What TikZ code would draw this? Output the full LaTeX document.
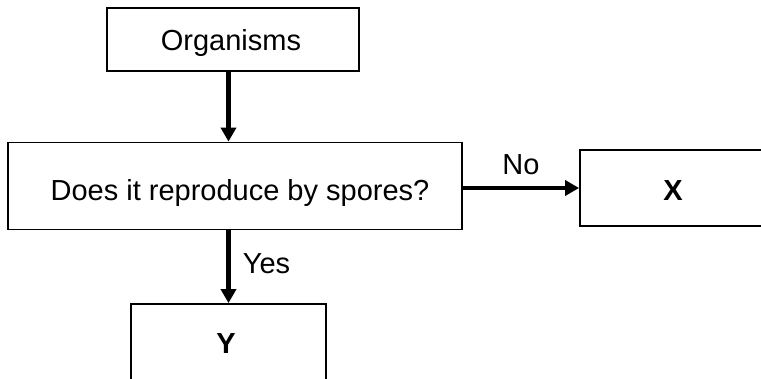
\documentclass[tikz,border=0pt]{standalone}
\usepackage{fontspec}
\setmainfont{Liberation Sans}
\usetikzlibrary{arrows.meta,positioning}

\begin{document}
\begin{tikzpicture}[x=1pt,y=-1pt,line join=miter,
  box/.style={draw,line width=1.8pt,inner sep=0pt},
  lbl/.style={font=\fontsize{29}{34}\selectfont,inner sep=0pt,anchor=base},
  flow/.style={line width=4.6pt,-{Triangle[length=14pt,width=15pt]}}]
  \clip (0,0) rectangle (761,378);
  % boxes
  \node[box,minimum width=252pt,minimum height=63pt] (org) at (233,39.5) {};
  \node[box,minimum width=454pt,minimum height=87pt] (ask) at (235,186) {};
  \node[box,minimum width=240pt,minimum height=76pt] (xbox) at (700,188) {};
  \node[box,minimum width=195pt,minimum height=120pt] (ybox) at (228.5,364) {};
  % texts
  \node[lbl] (orgtxt) at (231,50) {Organisms};
  \node[lbl] (asktxt) at (240,200) {Does it reproduce by spores?};
  \node[lbl,font=\fontsize{29}{34}\selectfont\bfseries] (xtxt) at (673,200) {X};
  \node[lbl,font=\fontsize{29}{34}\selectfont\bfseries] (ytxt) at (226,353) {Y};
  % arrows
  \draw[flow] (org.south -| ybox.north) -- (ask.north -| ybox.north);
  \draw[flow] (ask.east |- xbox.west) -- node[lbl,above=14pt,anchor=base] (no) {No} (xbox.west);
  \draw[flow] (ask.south -| ybox.north) -- node[lbl,anchor=base west,xshift=12pt,yshift=-7pt] (yes) {Yes} (ybox.north);
\end{tikzpicture}
\end{document}
